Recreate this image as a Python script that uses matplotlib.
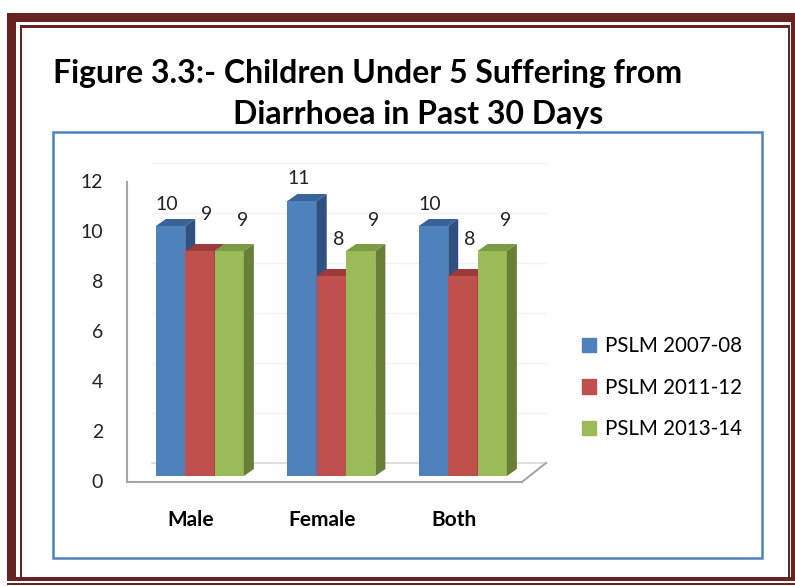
import matplotlib.pyplot as plt
from matplotlib.patches import Polygon, Rectangle, Patch

# data: children under 5 suffering from diarrhoea in past 30 days (%)
categories = ['Male', 'Female', 'Both']
series = ['PSLM 2007-08', 'PSLM 2011-12', 'PSLM 2013-14']
values = [
    [10, 11, 10],   # PSLM 2007-08
    [9, 8, 8],      # PSLM 2011-12
    [9, 9, 9],      # PSLM 2013-14
]
yticks = [0, 2, 4, 6, 8, 10, 12]

front_cols = ['#4f81bd', '#c0504d', '#9bbb59']
top_cols = ['#3a6399', '#9c3b39', '#7d9a44']
side_cols = ['#2f5080', '#8a3331', '#677f37']

W, H = 795, 586
fig = plt.figure(figsize=(W / 100, H / 100), dpi=100)
plt.rcParams['font.family'] = ['Lato', 'DejaVu Sans']


def fx(x):
    return x / W


def fy(y):
    return 1 - y / H


# page frame (maroon double border)
maroon = '#662323'
for (x0, y0, x1, y1) in [(7, 13, 800, 22), (7, 13, 16, 581), (7, 577, 800, 581), (791, 13, 800, 581)]:
    fig.add_artist(Rectangle((fx(x0), fy(y1)), fx(x1) - fx(x0), fy(y0) - fy(y1),
                             transform=fig.transFigure, color=maroon, lw=0))
for (x0, y0, x1, y1) in [(20, 25, 790, 28), (20, 25, 22, 577), (788, 25, 790, 577), (7, 583, 800, 585)]:
    fig.add_artist(Rectangle((fx(x0), fy(y1)), fx(x1) - fx(x0), fy(y0) - fy(y1),
                             transform=fig.transFigure, color=maroon, lw=0))

# chart area border
fig.add_artist(Rectangle((fx(53), fy(558)), fx(762) - fx(53), fy(132) - fy(558),
                         transform=fig.transFigure, fill=False, ec='#4f81bd', lw=1.8))

# title
fig.text(fx(53), fy(83), 'Figure 3.3:- Children Under 5 Suffering from', fontsize=23,
         fontweight='bold', ha='left', va='baseline')
fig.text(fx(233), fy(124), 'Diarrhoea in Past 30 Days', fontsize=23,
         fontweight='bold', ha='left', va='baseline')

# plotting axes (pixel box 100..560 x 150..490)
ax = fig.add_axes([fx(100), fy(490), fx(560) - fx(100), fy(150) - fy(490)])
ax.set_xlim(-0.76, 2.738)
ax.set_ylim(-0.56, 13.04)
ax.axis('off')

BW = 0.223            # bar width (data units)
DX, DY = 0.076, 0.28  # bar depth
FX, FY = -0.555, -0.24  # front wall corner
BX, BY = -0.365, 0.52   # back wall corner
RX = 2.449

# walls and gridlines
for v in yticks[1:]:
    ax.plot([BX, 2.631], [BY + v, BY + v], color='#f3f3f3', lw=1, zorder=1)
ax.plot([BX, 2.631], [BY, BY], color='#d9d9d9', lw=1.2, zorder=1)
ax.plot([FX, FX], [FY, FY + 12], color='#a6a6a6', lw=1.5, zorder=2)
ax.plot([FX, RX], [FY, FY], color='#a6a6a6', lw=1.5, zorder=2)
ax.plot([RX, 2.631], [FY, BY], color='#a6a6a6', lw=1.5, zorder=2)

for v in yticks:
    ax.text(-0.738, v + FY, str(v), ha='right', va='center', fontsize=14, color='#222222')

# bars
lab_dx = [-0.025, 0.055, 0.1]
lab_dy = [0.88, 1.47, 1.24]
z = 3
for i, cat in enumerate(categories):
    left = i - 0.335
    for j in range(len(series)):
        h = values[j][i]
        xl = left + j * BW
        ax.bar(xl, h, width=BW, align='edge', color=front_cols[j], lw=0, zorder=z)
        ax.add_patch(Polygon([(xl, h), (xl + BW, h), (xl + BW + DX, h + DY), (xl + DX, h + DY)],
                             closed=True, color=top_cols[j], lw=0, zorder=z))
        ax.add_patch(Polygon([(xl + BW, 0), (xl + BW + DX, DY), (xl + BW + DX, h + DY), (xl + BW, h)],
                             closed=True, color=side_cols[j], lw=0, zorder=z))
        z += 0.1
        ax.text(xl + BW / 2 + lab_dx[j], h + lab_dy[j], str(h), ha='center', va='center',
                fontsize=14, color='#222222', zorder=20)
    ax.text(i - 0.068, -1.76, cat, ha='center', va='center', fontsize=15,
            fontweight='bold', clip_on=False)

handles = [Patch(color=c) for c in front_cols]
fig.legend(handles, series, loc='upper left', bbox_to_anchor=(fx(582), fy(336)),
           frameon=False, fontsize=14.8, handlelength=0.7, handleheight=0.7,
           handletextpad=0.4, labelspacing=1.05, borderpad=0, borderaxespad=0)

fig.savefig('out.png', dpi=100)
